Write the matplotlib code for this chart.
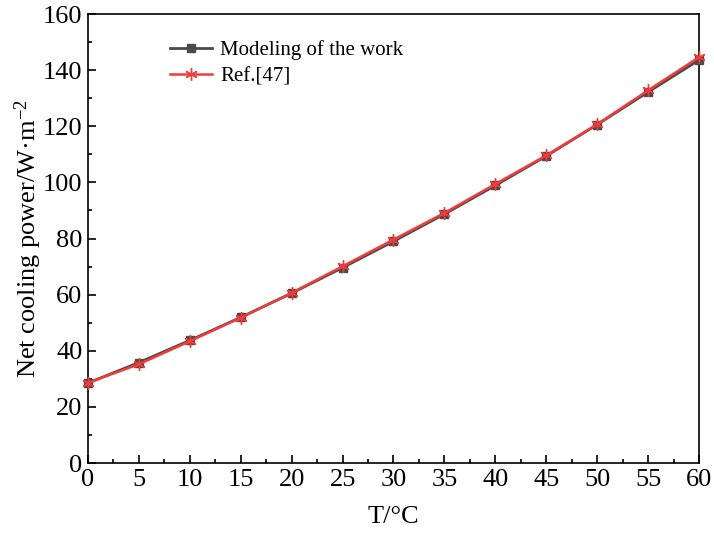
import matplotlib
matplotlib.use("Agg")
import matplotlib.pyplot as plt
from matplotlib.ticker import MultipleLocator

plt.rcParams['font.family'] = ['Liberation Serif', 'DejaVu Serif']
plt.rcParams['mathtext.fontset'] = 'custom'
plt.rcParams['mathtext.rm'] = 'Liberation Serif'
plt.rcParams['mathtext.it'] = 'Liberation Serif:italic'

temperature = [0, 5, 10, 15, 20, 25, 30, 35, 40, 45, 50, 55, 60]
model_power = [28.5, 35.8, 43.7, 51.9, 60.5, 69.6, 79.0, 88.7, 98.9, 109.4, 120.6, 132.2, 143.6]
ref_power = [28.6, 35.2, 43.4, 51.8, 60.6, 70.1, 79.6, 89.1, 99.4, 109.6, 120.7, 132.8, 144.6]

fig = plt.figure(figsize=(7.14, 5.33), dpi=100)
ax = fig.add_axes([0.1232, 0.1313, 0.979 - 0.1232, 0.9737 - 0.1313])

ax.plot(temperature, model_power, color='#4a4a4a', lw=2.0, marker='s', ms=6,
        label='Modeling of the work', clip_on=False, zorder=3)
ax.plot(temperature, ref_power, color='#f03c3c', lw=1.8, marker=(6, 2, 0), ms=9, mew=1.0,
        label='Ref.[47]', clip_on=False, zorder=4)

ax.set_xlim(0, 60)
ax.set_ylim(0, 160)
ax.xaxis.set_major_locator(MultipleLocator(5))
ax.xaxis.set_minor_locator(MultipleLocator(2.5))
ax.yaxis.set_major_locator(MultipleLocator(20))
ax.yaxis.set_minor_locator(MultipleLocator(10))
ax.tick_params(which='both', direction='in', top=False, right=False, labelsize=19, width=1.2)
ax.tick_params(which='major', length=6, pad=4)
ax.tick_params(which='minor', length=3)
for s in ax.spines.values():
    s.set_linewidth(1.2)

ax.set_xlabel('T/\u00b0C', fontsize=19, labelpad=11)
ax.set_ylabel('Net cooling power/W\u00b7m$^{\\mathregular{-2}}$', fontsize=19, labelpad=-1)

ax.legend(loc='center left', bbox_to_anchor=(0.121, 0.89), frameon=False, fontsize=15,
          handlelength=2.0, handletextpad=0.4, labelspacing=0.3, borderaxespad=0)

fig.savefig('out.png', dpi=100)
